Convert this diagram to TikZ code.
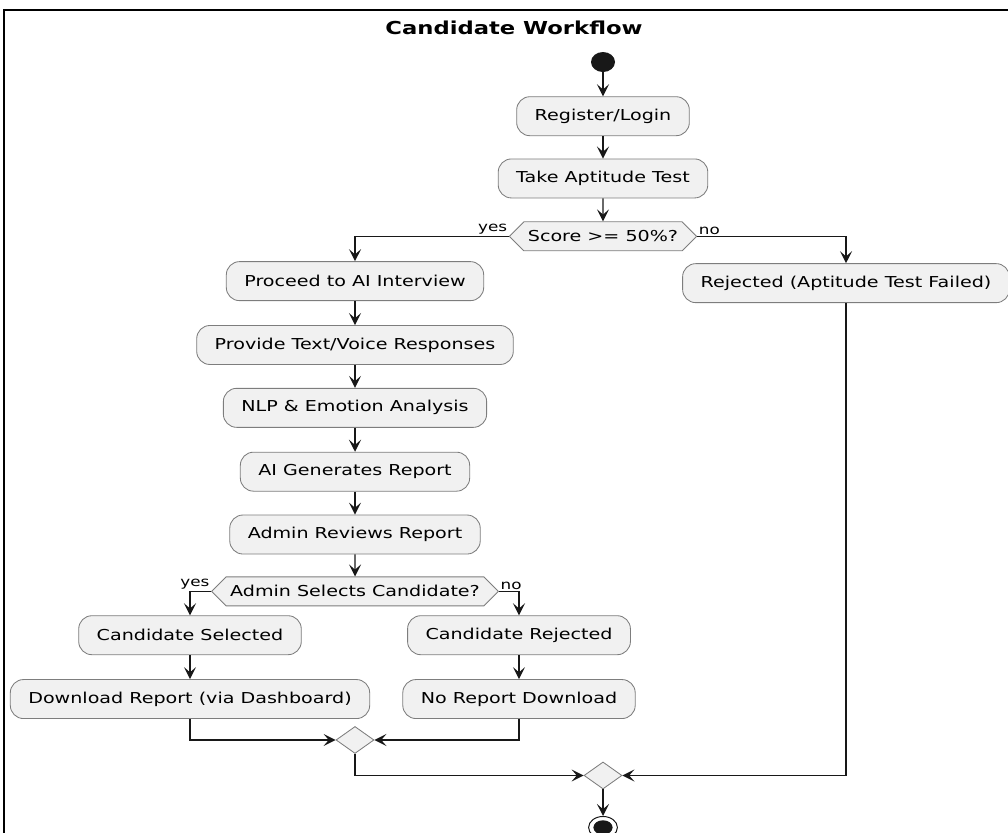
\documentclass[tikz,border=0pt]{standalone}
\usepackage{fontspec}
\setmainfont{DejaVu Sans}[FakeStretch=1.27]
\usetikzlibrary{shapes.geometric, shapes.symbols, arrows.meta, positioning, calc}
\definecolor{actfill}{HTML}{F1F1F1}
\definecolor{actline}{HTML}{7D7D7D}
\definecolor{flowline}{HTML}{181818}

\begin{document}
\begin{tikzpicture}[
  act/.style={rectangle, rounded corners=0.33cm, draw=actline, fill=actfill, line width=0.6pt, minimum height=0.975cm, inner xsep=0.45cm, font=\fontsize{10.7}{12.8}\selectfont},
  decide/.style={signal, signal to=west and east, signal pointer angle=90, draw=actline, fill=actfill, line width=0.6pt, minimum height=0.725cm, inner xsep=0.1cm, inner ysep=0pt, font=\fontsize{10.7}{12.8}\selectfont},
  merge/.style={diamond, draw=actline, fill=actfill, line width=0.6pt, minimum width=0.95cm, minimum height=0.675cm, inner sep=0pt},
  lbl/.style={inner sep=1pt, font=\fontsize{9.4}{11}\selectfont},
  arrow/.style={-{Stealth[length=0.3cm, width=0.3cm, inset=0.13cm]}, line width=0.95pt, color=flowline}
]
\clip (0,0) rectangle (25.2,-20.8);
\draw[line width=1.8pt] (0.1,-21.5) -- (0.1,-0.25) -- (25.6,-0.25);
\node[font=\fontsize{12.7}{15}\selectfont\bfseries] (title) at (12.85,-0.7) {Candidate Workflow};

\node[ellipse, fill=flowline, minimum width=0.6cm, minimum height=0.5cm, inner sep=0pt] (start) at (15.075,-1.55) {};
\node[act, below=0.6cm of start] (reg) {Register/Login};
\node[act, below=0.56cm of reg] (apt) {Take Aptitude Test};
\node[decide, below=0.575cm of apt] (score) {Score >= 50\%?};
\node[lbl, anchor=south east] (scoreyes) at (score.west) {yes};
\node[lbl, anchor=south west] (scoreno) at (score.east) {no};

% left branch
\node[act, below=0.25cm of score, xshift=-6.2cm] (proceed) {Proceed to AI Interview};
\node[act, below=0.6cm of proceed] (voice) {Provide Text/Voice Responses};
\node[act, below=0.575cm of voice] (nlp) {NLP \& Emotion Analysis};
\node[act, below=0.6cm of nlp] (report) {AI Generates Report};
\node[act, below=0.575cm of report] (review) {Admin Reviews Report};
\node[decide, below=0.55cm of review] (select) {Admin Selects Candidate?};
\node[lbl, anchor=south east] (selyes) at (select.west) {yes};
\node[lbl, anchor=south west] (selno) at (select.east) {no};

\node[act, below=0.225cm of select, xshift=-4.125cm] (chosen) {Candidate Selected};
\node[act, below=0.6cm of chosen] (download) {Download Report (via Dashboard)};
\node[act, below=0.225cm of select, xshift=4.1cm] (dropped) {Candidate Rejected};
\node[act, below=0.6cm of dropped] (nodownload) {No Report Download};
\node[merge] (join) at ($(download.south -| select)+(0,-0.525cm)$) {};

% right branch
\node[act, below=0.3cm of score, xshift=6.075cm] (failed) {Rejected (Aptitude Test Failed)};

\node[merge] (final) at ($(join -| score)+(0,-0.8875cm)$) {};
\node[ellipse, draw=flowline, fill=white, line width=0.7pt, minimum width=0.72cm, minimum height=0.55cm, inner sep=0pt] (stop) at ($(final)+(0,-1.3cm)$) {};
\node[ellipse, fill=flowline, minimum width=0.48cm, minimum height=0.36cm, inner sep=0pt] (stopdot) at (stop) {};

\draw[arrow] (start) -- (reg);
\draw[arrow] (reg) -- (apt);
\draw[arrow] (apt) -- (score);
\draw[arrow] (score.west) -| (proceed);
\draw[arrow] (score.east) -| (failed);
\draw[arrow] (proceed) -- (voice);
\draw[arrow] (voice) -- (nlp);
\draw[arrow] (nlp) -- (report);
\draw[arrow] (report) -- (review);
\draw[arrow] (review) -- (select);
\draw[arrow] (select.west) -| (chosen);
\draw[arrow] (select.east) -| (dropped);
\draw[arrow] (chosen) -- (download);
\draw[arrow] (dropped) -- (nodownload);
\draw[arrow] (download) |- (join);
\draw[arrow] (nodownload) |- (join);
\draw[arrow] (join) |- (final);
\draw[arrow] (failed) |- (final);
\draw[arrow] (final) -- (stop);
\end{tikzpicture}
\end{document}
